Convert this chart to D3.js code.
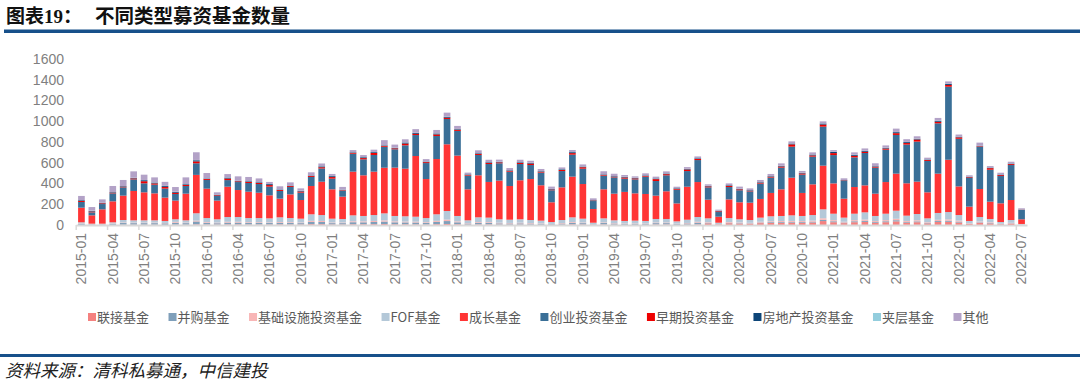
<!DOCTYPE html>
<html lang="zh">
<head>
<meta charset="UTF-8">
<title>不同类型募资基金数量</title>
<style>
  body { margin: 0; background: #fff; }
  svg { display: block; font-family: "Liberation Sans", Arial, "Noto Sans CJK SC", sans-serif; }
</style>
</head>
<body>
<script src="https://cdn.jsdelivr.net/npm/d3@7"></script>
<script>
// months 2015-01 .. 2022-07
var months = [
  '2015-01','2015-02','2015-03','2015-04','2015-05','2015-06','2015-07','2015-08','2015-09','2015-10','2015-11','2015-12',
  '2016-01','2016-02','2016-03','2016-04','2016-05','2016-06','2016-07','2016-08','2016-09','2016-10','2016-11','2016-12',
  '2017-01','2017-02','2017-03','2017-04','2017-05','2017-06','2017-07','2017-08','2017-09','2017-10','2017-11','2017-12',
  '2018-01','2018-02','2018-03','2018-04','2018-05','2018-06','2018-07','2018-08','2018-09','2018-10','2018-11','2018-12',
  '2019-01','2019-02','2019-03','2019-04','2019-05','2019-06','2019-07','2019-08','2019-09','2019-10','2019-11','2019-12',
  '2020-01','2020-02','2020-03','2020-04','2020-05','2020-06','2020-07','2020-08','2020-09','2020-10','2020-11','2020-12',
  '2021-01','2021-02','2021-03','2021-04','2021-05','2021-06','2021-07','2021-08','2021-09','2021-10','2021-11','2021-12',
  '2022-01','2022-02','2022-03','2022-04','2022-05','2022-06','2022-07'
];

var lianjie = [2,1,1,2,3,3,3,3,2,4,3,6, 5,4,6,6,5,5,5,6,5,5,8,8, 5,5,7,7,8,9,7,7,6,5,8,10,
  7,4,6,6,4,4,4,4,3,2,4,6, 5,2,5,4,3,3,3,5,5,3,4,6, 16,6,17,14,12,18,21,22,23,22,24,38,
  27,18,27,30,22,27,35,23,27,16,29,31, 24,10,19,15,7,12,3];
var binggou = [10,5,4,9,16,15,15,15,14,18,15,28, 16,13,17,17,15,15,14,16,15,13,22,21, 13,13,20,19,21,24,19,18,18,15,22,28,
  19,10,16,15,12,11,12,10,9,6,10,16, 13,5,14,10,9,9,9,13,13,8,11,17, 5,2,5,4,4,6,7,7,7,7,8,12,
  9,6,9,10,7,9,11,7,8,5,9,10, 8,3,6,5,2,4,1];
var jichu = [4,3,3,4,5,5,5,5,4,8,5,8, 7,6,8,8,7,7,6,7,7,6,10,10, 6,6,9,9,10,11,9,8,8,7,10,14,
  9,4,7,7,6,5,6,5,4,3,5,7, 6,2,6,4,4,4,4,6,6,3,5,8, 6,2,7,6,5,7,8,9,9,9,10,15,
  11,7,11,12,9,11,14,9,11,6,12,13, 10,4,8,6,3,5,1];
var fof = [10,4,5,11,24,22,22,22,19,25,22,71, 39,32,46,46,40,40,39,45,40,37,63,57, 37,34,57,52,57,68,52,51,48,40,63,83,
  52,27,45,43,33,31,33,29,26,18,29,45, 37,13,39,27,23,26,23,34,34,21,31,46, 37,12,38,31,27,40,48,49,54,49,54,86,
  62,40,62,70,49,62,78,51,60,37,66,71, 54,22,44,32,17,27,5];
var chengzhang = [141,80,138,202,235,283,270,260,225,180,257,370, 283,180,292,260,254,244,222,180,228,180,273,321,
  283,215,421,392,418,440,466,459,585,376,533,643, 582,299,405,344,373,325,376,395,341,190,315,392,
  334,132,280,257,280,263,260,225,267,173,318,337, 180,58,180,164,167,180,225,257,363,222,296,421,
  292,183,257,260,215,305,357,312,312,251,379,504, 276,138,270,167,180,193,45];
var chuangye = [55,29,51,77,80,112,87,84,87,64,74,112, 84,45,64,77,84,84,84,74,71,71,87,128,
  103,58,173,154,161,202,177,225,202,154,222,244, 238,132,196,173,167,138,157,135,122,116,157,212,
  148,77,132,157,128,135,167,141,154,132,151,212, 119,45,119,116,109,148,148,209,299,177,267,376,
  273,170,286,312,251,312,373,373,386,302,485,704, 459,276,408,308,263,337,92];
var zaoqi = [10,8,7,7,7,9,20,12,15,12,10,18, 9,7,15,7,11,11,15,9,9,11,9,12, 15,5,9,12,19,9,9,17,12,9,15,12,
  11,7,11,11,9,9,11,14,9,7,11,15, 14,5,7,7,11,9,7,18,11,9,15,11, 9,7,11,9,7,9,9,11,22,11,12,20,
  19,5,15,12,9,11,17,15,20,9,15,17, 14,7,5,15,9,9,2];
var fangdichan = [7,6,5,5,5,5,10,8,9,8,7,11, 5,5,9,5,6,6,9,5,5,6,5,8, 9,4,5,8,8,5,5,10,8,5,9,8,
  6,5,6,6,5,5,6,6,5,5,6,9, 6,4,5,5,6,5,5,6,6,5,5,6, 5,5,6,5,5,5,5,6,8,6,8,10,
  11,4,9,8,5,6,10,9,7,5,9,10, 6,5,4,5,5,5,1];
var jiaceng = [2,2,1,1,1,2,2,2,2,2,2,3, 2,1,2,1,2,2,2,2,2,2,2,2, 2,1,2,2,2,2,2,2,2,2,2,2,
  2,1,2,2,2,2,2,2,2,1,2,2, 2,1,1,1,2,2,1,2,2,2,2,2, 2,1,2,2,1,2,2,2,2,2,2,2,
  2,1,2,2,2,2,2,2,2,2,2,2, 2,1,1,2,2,2,1];
var qita = [39,35,32,58,58,61,51,48,39,45,64,74, 51,22,32,42,39,35,19,29,29,22,29,26,
  19,26,19,19,22,48,29,29,35,22,32,39, 29,16,26,22,19,19,22,19,19,22,16,19,
  19,16,29,22,16,13,19,16,19,13,16,16, 13,10,16,19,16,19,19,22,19,16,19,19,
  16,16,22,22,26,22,32,26,22,16,26,22, 19,13,29,13,16,16,10];

var seriesNames = ['联接基金','并购基金','基础设施投资基金','FOF基金','成长基金','创业投资基金','早期投资基金','房地产投资基金','夹层基金','其他'];
var seriesData  = [lianjie, binggou, jichu, fof, chengzhang, chuangye, zaoqi, fangdichan, jiaceng, qita];
var seriesColors = ['#F4817F','#7F9FBA','#F8B6B6','#B4C8D8','#FF3535','#3A6F97','#EE0000','#0D4578','#93CDDD','#B3A2C7'];
var yTicks = [0,200,400,600,800,1000,1200,1400,1600];

var width = 1080, height = 385;

var svg = d3.select('body').append('svg')
    .attr('width', width)
    .attr('height', height);

svg.append('rect').attr('width', width).attr('height', height).attr('fill', '#fff');

// title
var title = svg.append('text')
    .attr('x', 6).attr('y', 23)
    .attr('font-family', '"Noto Sans CJK SC", sans-serif')
    .attr('font-weight', 700)
    .attr('font-size', 19)
    .attr('fill', '#111');
title.append('tspan').text('图表');
title.append('tspan').attr('font-family', '"Liberation Serif", serif').text('19');
title.append('tspan').text('：');
svg.append('text')
    .attr('x', 95).attr('y', 23)
    .attr('font-family', '"Noto Sans CJK SC", sans-serif')
    .attr('font-weight', 700)
    .attr('font-size', 19.5)
    .attr('fill', '#111')
    .text('不同类型募资基金数量');

svg.append('rect').attr('x', 4).attr('y', 29.5).attr('width', 1076).attr('height', 3.5).attr('fill', '#17508A');

// table for stacking
var rows = months.map(function(m, i) {
  var r = { month: m };
  seriesNames.forEach(function(s, k) { r[s] = seriesData[k][i]; });
  return r;
});

var stacked = d3.stack().keys(seriesNames)(rows);

var x = d3.scaleBand()
    .domain(months)
    .range([76, 1027])
    .paddingInner(0.36)
    .paddingOuter(0.2);

var y = d3.scaleLinear()
    .domain([0, 1600])
    .range([225, 59]);

var color = d3.scaleOrdinal().domain(seriesNames).range(seriesColors);

// bars
svg.append('g')
  .selectAll('g')
  .data(stacked)
  .enter().append('g')
    .attr('fill', function(d) { return color(d.key); })
  .selectAll('rect')
  .data(function(d) { return d; })
  .enter().append('rect')
    .attr('x', function(d) { return x(d.data.month); })
    .attr('y', function(d) { return y(d[1]); })
    .attr('width', x.bandwidth())
    .attr('height', function(d) { return Math.max(0, y(d[0]) - y(d[1])); });

// y axis
var yAxis = svg.append('g')
    .attr('transform', 'translate(76,0)')
    .call(d3.axisLeft(y).tickValues(yTicks).tickFormat(d3.format('d')).tickSize(0).tickPadding(12));
yAxis.select('.domain').remove();
yAxis.selectAll('text')
    .attr('font-size', 14)
    .attr('font-family', '"Liberation Sans", Arial, sans-serif')
    .attr('fill', '#7F7F7F');

// x axis
var xTicks = months.filter(function(d, i) { return i % 3 === 0; });
var xAxis = svg.append('g')
    .attr('transform', 'translate(0,225)')
    .call(d3.axisBottom(x).tickValues(xTicks).tickSize(0).tickPadding(0));
xAxis.select('.domain')
    .attr('stroke', '#D9D9D9')
    .attr('stroke-width', 2);
xAxis.selectAll('text')
    .attr('font-size', 14)
    .attr('font-family', '"Liberation Sans", Arial, sans-serif')
    .attr('fill', '#7F7F7F')
    .attr('text-anchor', 'end')
    .attr('dy', '0.35em')
    .attr('transform', 'translate(0,8) rotate(-90)');

// small tick marks between category groups
var step = x.step();
svg.append('g')
  .selectAll('line')
  .data(xTicks)
  .enter().append('line')
    .attr('x1', function(d) { return x(d) - step * 0.18; })
    .attr('x2', function(d) { return x(d) - step * 0.18; })
    .attr('y1', 225)
    .attr('y2', 230)
    .attr('stroke', '#D9D9D9')
    .attr('stroke-width', 1.5);

// legend
var legend = svg.append('g')
    .attr('font-family', '"Noto Sans CJK SC", sans-serif')
    .attr('font-size', 13);
var lx = 88;
seriesNames.forEach(function(name, k) {
  legend.append('rect')
      .attr('x', lx).attr('y', 313)
      .attr('width', 8).attr('height', 8)
      .attr('fill', seriesColors[k]);
  var t = legend.append('text')
      .attr('x', lx + 9).attr('y', 322)
      .attr('fill', '#595959')
      .text(name);
  lx += 9 + t.node().getComputedTextLength() + 19.5;
});

// source
svg.append('rect').attr('x', 0).attr('y', 354).attr('width', 1080).attr('height', 3).attr('fill', '#17508A');
svg.append('text')
    .attr('x', 5).attr('y', 377)
    .attr('font-family', '"Noto Sans CJK SC", sans-serif')
    .attr('font-size', 17.5)
    .attr('font-style', 'italic')
    .attr('fill', '#222')
    .text('资料来源：清科私募通，中信建投');
</script>
</body>
</html>
